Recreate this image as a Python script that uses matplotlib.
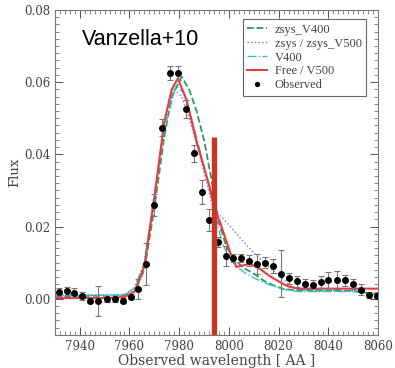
import matplotlib
matplotlib.use('Agg')
import matplotlib.pyplot as plt
from matplotlib.ticker import MultipleLocator

# observed spectrum
OBS_WAVE = [7931.6, 7934.7, 7937.8, 7941.1, 7944.2, 7947.4, 7950.8, 7954.0, 7957.2, 7960.5,
            7963.5, 7966.6, 7969.8, 7973.2, 7976.3, 7979.6, 7982.6, 7986.0, 7989.0, 7992.1,
            7995.5, 7998.7, 8001.8, 8004.9, 8008.2, 8011.4, 8014.6, 8017.8, 8021.0, 8024.2,
            8027.5, 8030.6, 8034.0, 8036.9, 8040.0, 8043.3, 8046.6, 8049.8, 8053.2, 8056.4,
            8059.4]
OBS_FLUX = [0.0019, 0.0021, 0.0017, 0.0008, -0.0005, -0.0007, -0.0002, -0.0002, -0.0005, 0.0006,
            0.0027, 0.0097, 0.0259, 0.0474, 0.0625, 0.0625, 0.0525, 0.0403, 0.0296, 0.0218,
            0.0157, 0.0119, 0.0113, 0.0113, 0.0106, 0.0097, 0.0100, 0.0091, 0.0069, 0.0057,
            0.0048, 0.0041, 0.0039, 0.0046, 0.0051, 0.0053, 0.0051, 0.0042, 0.0025, 0.0011,
            0.0009]
OBS_ERR = [0.0012, 0.0012, 0.0012, 0.0012, 0.0008, 0.0042, 0.0008, 0.0006, 0.0008, 0.0008,
           0.0028, 0.0058, 0.0030, 0.0023, 0.0020, 0.0020, 0.0025, 0.0023, 0.0034, 0.0030,
           0.0014, 0.0028, 0.0012, 0.0012, 0.0014, 0.0028, 0.0015, 0.0020, 0.0065, 0.0015,
           0.0015, 0.0013, 0.0012, 0.0016, 0.0022, 0.0025, 0.0016, 0.0014, 0.0015, 0.0008,
           0.0008]

# model: zsys_V400
V400Z_WAVE = [7930, 7950, 7958, 7962, 7966, 7970, 7974, 7977, 7981, 7984, 7987, 7990, 7993,
              7996, 7999, 8002, 8006, 8010, 8014, 8018, 8022, 8028, 8050, 8060]
V400Z_FLUX = [0.0008, 0.0008, 0.0010, 0.0020, 0.0080, 0.0250, 0.0450, 0.0560, 0.0615, 0.0580,
              0.0520, 0.0440, 0.0330, 0.0210, 0.0145, 0.0110, 0.0085, 0.0070, 0.0050, 0.0037,
              0.0027, 0.0023, 0.0022, 0.0012]

# model: zsys / zsys_V500
V500Z_WAVE = [7930, 7958, 7962, 7966, 7970, 7974, 7977.6, 7981, 7984, 7987, 7990, 7993.7,
              8000, 8005, 8011, 8015, 8020, 8025, 8028, 8050, 8060]
V500Z_FLUX = [0.0010, 0.0012, 0.0030, 0.0100, 0.0290, 0.0470, 0.0583, 0.0560, 0.0500, 0.0430,
              0.0350, 0.0250, 0.0205, 0.0165, 0.0120, 0.0095, 0.0065, 0.0035, 0.0025, 0.0022,
              0.0012]

# model: V400
V400_WAVE = [7930, 7958, 7962, 7966, 7970, 7974, 7978.7, 7982, 7985, 7988, 7991, 7994, 7997,
             8000, 8003, 8006, 8010, 8014, 8018, 8022, 8028, 8050, 8060]
V400_FLUX = [0.0009, 0.0010, 0.0030, 0.0100, 0.0280, 0.0470, 0.0590, 0.0570, 0.0500, 0.0420,
             0.0340, 0.0250, 0.0160, 0.0115, 0.0090, 0.0074, 0.0058, 0.0045, 0.0035, 0.0026,
             0.0020, 0.0020, 0.0010]

# model: Free / V500
FREE_WAVE = [7930, 7950, 7958, 7962, 7966, 7970, 7974, 7977, 7979.5, 7983, 7987, 7992.4,
             7994.4, 7996.4, 8000.4, 8003, 8008.5, 8012.5, 8016, 8020.5, 8024, 8028, 8060]
FREE_FLUX = [0.0002, 0.0002, 0.0005, 0.0020, 0.0090, 0.0280, 0.0490, 0.0580, 0.0610, 0.0550,
             0.0435, 0.0306, 0.0245, 0.0213, 0.0130, 0.0088, 0.0097, 0.0083, 0.0065, 0.0046,
             0.0034, 0.0028, 0.0028]

# vertical marker
MARK_WAVE = 7994.1
MARK_TOP = 0.0447


def main():
	fig = plt.figure(figsize=(3.95, 3.68), dpi=100)
	ax = fig.add_axes([0.139, 0.09, 0.818, 0.883])

	ax.plot(V400Z_WAVE, V400Z_FLUX, '--', color='#2e9a5a', lw=1.3, label='zsys_V400')
	ax.plot(V500Z_WAVE, V500Z_FLUX, ':', color='#6f6ff0', lw=1.0, label='zsys / zsys_V500')
	ax.plot(V400_WAVE, V400_FLUX, '-.', color='#2ec4c4', lw=1.0, label='V400')
	ax.plot(FREE_WAVE, FREE_FLUX, '-', color='#ee3a3a', lw=1.5, label='Free / V500')
	ax.errorbar(OBS_WAVE, OBS_FLUX, yerr=OBS_ERR, fmt='none', ecolor='#777777',
		elinewidth=0.8, capsize=2.5, capthick=0.8)
	ax.plot(OBS_WAVE, OBS_FLUX, 'o', color='black', ms=4, label='Observed')

	ax.plot([MARK_WAVE, MARK_WAVE], [-0.01, MARK_TOP], '-', color='#cc3322', lw=3.8,
		solid_capstyle='butt')

	ax.text(7940.9, 0.0717, 'Vanzella+10', fontsize=15.5, family='Liberation Sans',
		va='center', ha='left')

	ax.set_xlim(7930, 8060)
	ax.set_ylim(-0.01, 0.08)
	ax.xaxis.set_major_locator(MultipleLocator(20))
	ax.xaxis.set_minor_locator(MultipleLocator(2))
	ax.yaxis.set_major_locator(MultipleLocator(0.02))
	ax.yaxis.set_minor_locator(MultipleLocator(0.002))
	ax.tick_params(which='both', direction='in', top=True, right=True, colors='#555555',
		labelsize=8.5, labelcolor='#444444')
	ax.tick_params(which='major', length=6, width=0.7)
	ax.tick_params(which='minor', length=3, width=0.5)
	ax.set_xticklabels(['', '7940', '7960', '7980', '8000', '8020', '8040', '8060'])
	ax.set_yticklabels(['', '0.00', '0.02', '0.04', '0.06', '0.08'])
	for lab in ax.get_xticklabels() + ax.get_yticklabels():
		lab.set_family('DejaVu Serif')
	for sp in ax.spines.values():
		sp.set_color('#777777')
		sp.set_linewidth(0.8)

	ax.set_xlabel('Observed wavelength [ AA ]', family='DejaVu Serif', fontsize=10,
		color='#444444', labelpad=1)
	ax.set_ylabel('Flux', family='DejaVu Serif', fontsize=9.5, color='#444444', labelpad=2)

	leg = ax.legend(loc='upper right', prop={'family': 'Liberation Serif', 'size': 9},
		handlelength=1.6, handletextpad=0.6, labelspacing=0.15, borderpad=0.35,
		fancybox=False, framealpha=1, edgecolor='#666666', markerscale=0.7,
		bbox_to_anchor=(0.982, 0.99))
	leg.get_frame().set_linewidth(0.8)
	for t in leg.get_texts():
		t.set_color('#444444')

	fig.savefig('out.png', dpi=100)


if __name__ == '__main__':
	main()
